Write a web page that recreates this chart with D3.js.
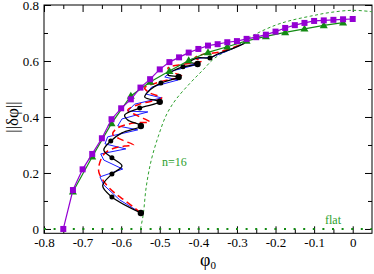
<!DOCTYPE html>
<html>
<head>
<meta charset="utf-8">
<script src="https://cdn.jsdelivr.net/npm/d3@7"></script>
<style>
  body { margin: 0; background: #fff; }
  svg { display: block; font-family: "Liberation Serif", "DejaVu Serif", serif; }
  .axis path, .axis line { stroke: #000; }
  .axis text { font-size: 13px; fill: #000; font-family: "Liberation Serif", serif; }
</style>
</head>
<body>
<svg id="chart" width="374" height="274"></svg>
<script>
// purple squares
const squareX = [-0.75, -0.725, -0.70, -0.675, -0.65, -0.625, -0.60, -0.575, -0.55, -0.525,
  -0.50, -0.475, -0.45, -0.425, -0.40, -0.375, -0.35, -0.325, -0.30, -0.275, -0.25,
  -0.225, -0.20, -0.175, -0.15, -0.125, -0.10, -0.075, -0.05, -0.025, 0];
const squareY = [0, 0.139, 0.213, 0.268, 0.324, 0.392, 0.431, 0.463, 0.505, 0.535,
  0.570, 0.596, 0.613, 0.630, 0.643, 0.655, 0.660, 0.667, 0.671, 0.679, 0.685,
  0.694, 0.705, 0.718, 0.728, 0.736, 0.743, 0.745, 0.747, 0.749, 0.750];

// green triangles
const triX = [-0.725, -0.675, -0.625, -0.575, -0.525, -0.475, -0.425, -0.375, -0.325,
  -0.275, -0.225, -0.175, -0.125, -0.075, -0.025];
const triY = [0.133, 0.258, 0.377, 0.475, 0.525, 0.564, 0.602, 0.631, 0.651,
  0.672, 0.688, 0.702, 0.715, 0.727, 0.737];

// n=16 dashed curve
const n16X = [-0.55, -0.543, -0.535, -0.522, -0.504, -0.483, -0.459, -0.422, -0.388,
  -0.358, -0.30, -0.25, -0.20, -0.16, -0.11, -0.06, 0, 0.05];
const n16Y = [0, 0.05, 0.151, 0.246, 0.33, 0.407, 0.461, 0.52, 0.568,
  0.61, 0.655, 0.697, 0.728, 0.745, 0.76, 0.773, 0.781, 0.776];

// black trajectory (dots flagged: 0 none, 1 small, 2 big)
const blackX = [-0.549, -0.624, -0.648, -0.624, -0.598, -0.624, -0.645, -0.627, -0.598, -0.549,
  -0.583, -0.591, -0.552, -0.500, -0.539, -0.526, -0.497, -0.451, -0.479, -0.461,
  -0.440, -0.402, -0.422, -0.402, -0.370, -0.350, -0.313, -0.280];
const blackY = [0.057, 0.114, 0.154, 0.196, 0.225, 0.254, 0.282, 0.314, 0.343, 0.368,
  0.389, 0.407, 0.432, 0.454, 0.471, 0.496, 0.521, 0.543, 0.550, 0.568,
  0.579, 0.589, 0.596, 0.611, 0.611, 0.625, 0.643, 0.664];
const blackDot = [2, 1, 0, 1, 0, 1, 0, 1, 0, 2,
  0, 0, 1, 2, 0, 0, 1, 2, 0, 0,
  1, 2, 0, 0, 1, 0, 0, 0];

// red dashed trajectory
const redX = [-0.549, -0.585, -0.617, -0.642, -0.658, -0.655, -0.642, -0.617, -0.591, -0.568,
  -0.598, -0.622, -0.609, -0.565, -0.526, -0.557, -0.583, -0.552, -0.495, -0.526,
  -0.539, -0.500, -0.443, -0.469, -0.479, -0.435, -0.391, -0.409, -0.396, -0.345, -0.280];
const redY = [0.057, 0.096, 0.129, 0.164, 0.204, 0.239, 0.271, 0.289, 0.296, 0.300,
  0.318, 0.339, 0.361, 0.379, 0.382, 0.404, 0.425, 0.446, 0.468, 0.486,
  0.504, 0.525, 0.546, 0.561, 0.575, 0.589, 0.600, 0.611, 0.621, 0.632, 0.664];

// blue trajectory
const blueX = [-0.549, -0.604, -0.645, -0.655, -0.596, -0.645, -0.653, -0.588, -0.642, -0.635,
  -0.557, -0.609, -0.598, -0.531, -0.583, -0.565, -0.495, -0.536, -0.521, -0.453,
  -0.487, -0.469, -0.407, -0.435, -0.417, -0.365, -0.319, -0.280];
const blueY = [0.057, 0.104, 0.157, 0.186, 0.214, 0.246, 0.268, 0.286, 0.304, 0.329,
  0.354, 0.368, 0.393, 0.418, 0.421, 0.446, 0.468, 0.482, 0.507, 0.532,
  0.543, 0.564, 0.586, 0.593, 0.607, 0.614, 0.639, 0.664];

const xTicks = [-0.8, -0.7, -0.6, -0.5, -0.4, -0.3, -0.2, -0.1, 0];
const xMinor = [-0.75, -0.65, -0.55, -0.45, -0.35, -0.25, -0.15, -0.05];
const yTicks = [0, 0.2, 0.4, 0.6, 0.8];
const yMinor = [0.1, 0.3, 0.5, 0.7];

const purple = '#9400d3';
const green = '#138a13';
const lightGreen = '#2ca02c';
const serif = '"Liberation Serif", "DejaVu Serif", serif';

const svg = d3.select('#chart');
const m = { left: 44, right: 372, top: 5, bottom: 233.3 };

const x = d3.scaleLinear().domain([-0.8, 0.05]).range([m.left, m.right]);
const y = d3.scaleLinear().domain([-0.0155, 0.8]).range([m.bottom, m.top]);

const zip = (xs, ys) => xs.map((v, i) => [v, ys[i]]);
const line = d3.line().x(d => x(d[0])).y(d => y(d[1]));

// axes, ticks inward
const fmt = d => d === 0 ? '0' : d3.format('.1f')(d).replace('\u2212', '-');
const addAxis = (axis, tx, ty) => svg.append('g').classed('axis', true)
  .attr('transform', `translate(${tx},${ty})`)
  .call(axis)
  .attr('font-family', serif)
  .attr('font-size', 13);

addAxis(d3.axisBottom(x).tickValues(xTicks).tickFormat(fmt).tickSize(-7).tickPadding(4.5).tickSizeOuter(0), 0, m.bottom);
addAxis(d3.axisBottom(x).tickValues(xMinor).tickFormat('').tickSize(-4).tickSizeOuter(0), 0, m.bottom);
addAxis(d3.axisTop(x).tickValues(xTicks).tickFormat('').tickSize(-7).tickSizeOuter(0), 0, m.top);
addAxis(d3.axisTop(x).tickValues(xMinor).tickFormat('').tickSize(-4).tickSizeOuter(0), 0, m.top);
addAxis(d3.axisLeft(y).tickValues(yTicks).tickFormat(fmt).tickSize(-7).tickPadding(5).tickSizeOuter(0), m.left, 0);
addAxis(d3.axisLeft(y).tickValues(yMinor).tickFormat('').tickSize(-4).tickSizeOuter(0), m.left, 0);
addAxis(d3.axisRight(y).tickValues(yTicks).tickFormat('').tickSize(-7).tickSizeOuter(0), m.right, 0);
addAxis(d3.axisRight(y).tickValues(yMinor).tickFormat('').tickSize(-4).tickSizeOuter(0), m.right, 0);
svg.selectAll('.axis .domain').remove();

svg.append('rect')
  .attr('x', m.left).attr('y', m.top)
  .attr('width', m.right - m.left).attr('height', m.bottom - m.top)
  .attr('fill', 'none').attr('stroke', '#000').attr('stroke-width', 1);

const plot = svg.append('g');

// flat dotted line
plot.append('path')
  .attr('d', line([[-0.8, 0], [0.05, 0]]))
  .attr('fill', 'none').attr('stroke', green)
  .attr('stroke-width', 2).attr('stroke-dasharray', '2,7.6');

// n=16 dashed
plot.append('path')
  .attr('d', line.curve(d3.curveCatmullRom)(zip(n16X, n16Y)))
  .attr('fill', 'none').attr('stroke', lightGreen)
  .attr('stroke-width', 1).attr('stroke-dasharray', '3,2.5');

// trajectories
plot.append('path')
  .attr('d', line.curve(d3.curveLinear)(zip(blueX, blueY)))
  .attr('fill', 'none').attr('stroke', '#0000ff').attr('stroke-width', 0.9);
plot.append('path')
  .attr('d', line.curve(d3.curveCatmullRom)(zip(redX, redY)))
  .attr('fill', 'none').attr('stroke', '#ff0000')
  .attr('stroke-width', 1.5).attr('stroke-dasharray', '7,4');
const blackPts = zip(blackX, blackY);
plot.append('path')
  .attr('d', line.curve(d3.curveCatmullRom)(blackPts))
  .attr('fill', 'none').attr('stroke', '#000').attr('stroke-width', 1.3);
plot.selectAll('circle.bdot')
  .data(blackPts.map((d, i) => ({ p: d, kind: blackDot[i] })).filter(d => d.kind > 0))
  .enter().append('circle')
  .classed('bdot', true)
  .attr('cx', d => x(d.p[0])).attr('cy', d => y(d.p[1]))
  .attr('r', d => d.kind === 2 ? 3.2 : 2.5)
  .attr('fill', '#000');

// green triangles
const triPts = zip(triX, triY);
plot.append('path')
  .attr('d', line.curve(d3.curveLinear)(triPts))
  .attr('fill', 'none').attr('stroke', green).attr('stroke-width', 1.2);
plot.selectAll('path.tri')
  .data(triPts)
  .enter().append('path')
  .classed('tri', true)
  .attr('d', d3.symbol(d3.symbolTriangle, 28))
  .attr('transform', d => `translate(${x(d[0])},${y(d[1]) + 0.5})`)
  .attr('fill', green);

// purple squares
const sqPts = zip(squareX, squareY);
plot.append('path')
  .attr('d', line.curve(d3.curveLinear)(sqPts))
  .attr('fill', 'none').attr('stroke', purple).attr('stroke-width', 1.2);
plot.selectAll('rect.sq')
  .data(sqPts)
  .enter().append('rect')
  .classed('sq', true)
  .attr('x', d => x(d[0]) - 3).attr('y', d => y(d[1]) - 3)
  .attr('width', 6).attr('height', 6)
  .attr('fill', purple);

// annotations
svg.append('text')
  .attr('x', 162).attr('y', 166)
  .attr('font-family', serif).attr('font-size', 12).attr('fill', lightGreen)
  .text('n=16');
svg.append('text')
  .attr('x', 325).attr('y', 224)
  .attr('font-family', serif).attr('font-size', 12).attr('fill', lightGreen)
  .text('flat');

// axis titles
const xl = svg.append('text')
  .attr('x', 200).attr('y', 266)
  .attr('font-family', serif).attr('font-size', 18).attr('fill', '#000');
xl.append('tspan').text('φ');
xl.append('tspan').attr('font-size', 11).attr('dy', 3).text('0');

svg.append('text')
  .attr('transform', 'translate(18,117) rotate(-90)')
  .attr('text-anchor', 'middle')
  .attr('font-family', serif).attr('font-size', 17).attr('fill', '#000')
  .text('||δφ||');
</script>
</body>
</html>
